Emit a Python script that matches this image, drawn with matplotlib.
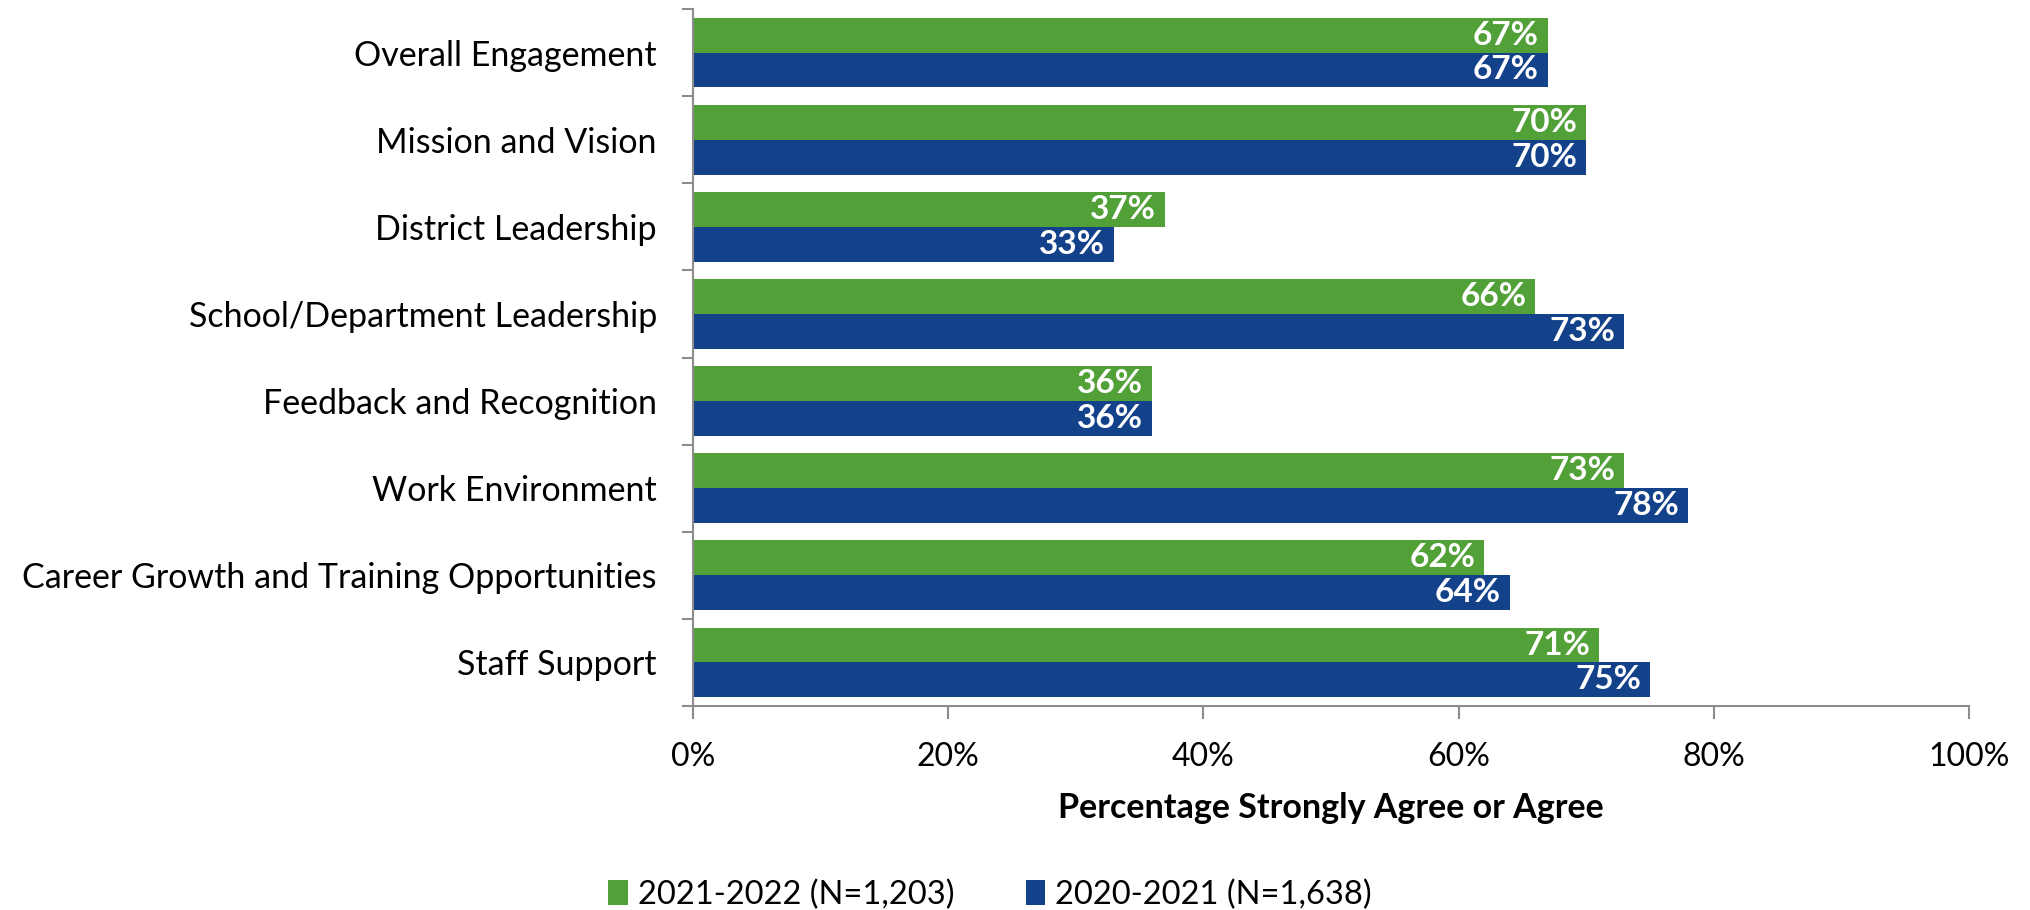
import matplotlib
matplotlib.use("Agg")
import matplotlib.pyplot as plt
import numpy as np

plt.rcParams['font.family'] = ['Lato', 'DejaVu Sans']

# survey categories, top to bottom
categories = ["Overall Engagement", "Mission and Vision", "District Leadership",
              "School/Department Leadership", "Feedback and Recognition",
              "Work Environment", "Career Growth and Training Opportunities",
              "Staff Support"]
pct_2122 = [67, 70, 37, 66, 36, 73, 62, 71]
pct_2021 = [67, 70, 33, 73, 36, 78, 64, 75]
series_names = ["2021-2022 (N=1,203)", "2020-2021 (N=1,638)"]
x_ticks = [0, 20, 40, 60, 80, 100]

green = "#52A038"
blue = "#13428A"
axis_gray = "#8C8C8C"

fig = plt.figure(figsize=(20.3, 9.1), dpi=100)
ax = fig.add_axes([693/2030, 1-706/910, (1969-693)/2030, (706-9)/910])

y = np.arange(len(categories))
h = 0.4
b1 = ax.barh(y - h/2, pct_2122, height=h, color=green, label=series_names[0])
b2 = ax.barh(y + h/2, pct_2021, height=h, color=blue, label=series_names[1])

for bars, vals in ((b1, pct_2122), (b2, pct_2021)):
    for bar, v in zip(bars, vals):
        ax.text(v - 0.7, bar.get_y() + bar.get_height()/2, "%d%%" % v,
                ha="right", va="center", color="white", fontsize=24, fontweight="bold")

ax.set_xlim(0, 100)
ax.set_ylim(len(categories) - 0.5, -0.5)

ax.set_xticks(x_ticks)
ax.set_xticklabels(["%d%%" % t for t in x_ticks])
ax.set_yticks(y)
ax.set_yticklabels(categories)
ax.set_yticks(np.arange(len(categories) + 1) - 0.5, minor=True)

ax.tick_params(axis="y", which="major", length=0, pad=26, labelsize=24.5)
ax.tick_params(axis="y", which="minor", length=8, width=1.5, color=axis_gray)
ax.tick_params(axis="x", which="major", length=9, width=1.5, color=axis_gray, pad=17, labelsize=23)

for s in ("top", "right"):
    ax.spines[s].set_visible(False)
for s in ("left", "bottom"):
    ax.spines[s].set_color(axis_gray)
    ax.spines[s].set_linewidth(1.5)

ax.set_xlabel("Percentage Strongly Agree or Agree", fontsize=24.5, fontweight="bold", labelpad=14)

fig.legend(handles=[b1, b2], labels=series_names, loc="center", ncol=2,
           bbox_to_anchor=(990/2030, 1-895/910), frameon=False, fontsize=23.5,
           handlelength=0.6, handleheight=0.8, handletextpad=0.3, columnspacing=2.2)

fig.savefig("out.png", dpi=100)
